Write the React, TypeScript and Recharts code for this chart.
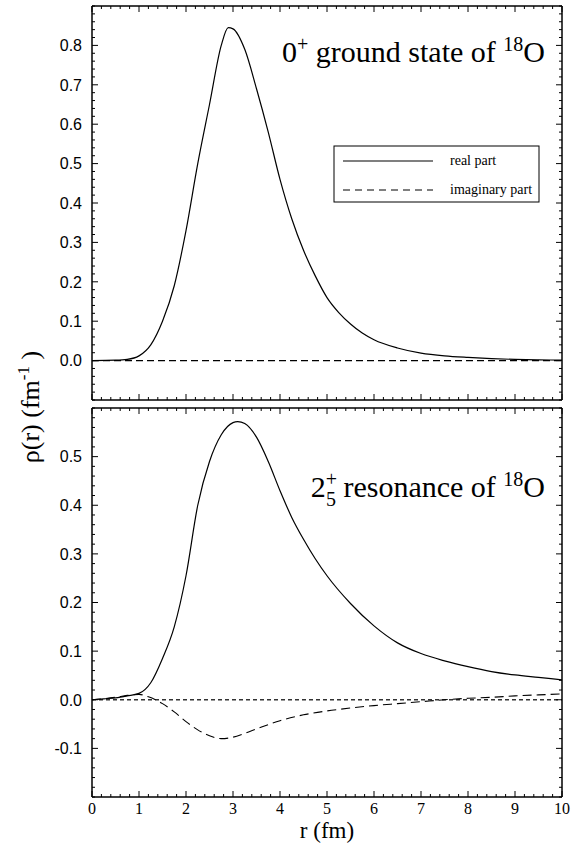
import React from 'react';
import { LineChart, Line, XAxis, YAxis, ReferenceLine } from 'recharts';

// upper panel: 0+ ground state, r in fm
const rTop = [0, 0.5, 0.75, 1, 1.25, 1.5, 1.75, 2, 2.25, 2.5, 2.75, 2.9, 3, 3.25, 3.5, 3.75, 4, 4.25, 4.5, 4.75, 5, 5.25, 5.5, 5.75, 6, 6.5, 7, 7.5, 8, 8.5, 9, 9.5, 10];
const realTop = [0, 0.001, 0.003, 0.012, 0.04, 0.1, 0.19, 0.33, 0.5, 0.65, 0.8, 0.845, 0.842, 0.79, 0.69, 0.58, 0.46, 0.36, 0.28, 0.215, 0.16, 0.122, 0.093, 0.07, 0.053, 0.032, 0.019, 0.012, 0.008, 0.005, 0.003, 0.002, 0.001];
const rImagTop = [0, 10];
const imagTop = [0, 0];

// lower panel: 2+_5 resonance
const rBot = [0, 0.25, 0.5, 0.75, 1, 1.25, 1.5, 1.75, 2, 2.25, 2.5, 2.75, 3, 3.1, 3.25, 3.5, 3.75, 4, 4.25, 4.5, 4.75, 5, 5.5, 6, 6.5, 7, 7.5, 8, 8.5, 9, 9.5, 10];
const realBot = [0, 0.002, 0.004, 0.008, 0.013, 0.035, 0.085, 0.15, 0.255, 0.4, 0.49, 0.545, 0.57, 0.572, 0.568, 0.54, 0.49, 0.43, 0.375, 0.33, 0.29, 0.255, 0.198, 0.152, 0.117, 0.095, 0.08, 0.068, 0.058, 0.051, 0.046, 0.041];
const rImagBot = [0, 0.25, 0.5, 0.75, 1, 1.2, 1.35, 1.5, 1.75, 2, 2.25, 2.5, 2.75, 3, 3.25, 3.5, 4, 4.5, 5, 5.5, 6, 6.5, 7, 7.5, 8, 8.5, 9, 9.5, 10];
const imagBot = [0, 0.002, 0.005, 0.009, 0.011, 0.006, 0, -0.008, -0.025, -0.045, -0.062, -0.074, -0.08, -0.077, -0.069, -0.06, -0.043, -0.031, -0.023, -0.017, -0.012, -0.008, -0.004, 0, 0.003, 0.005, 0.008, 0.01, 0.012];

// axes
const xMajor = [0, 1, 2, 3, 4, 5, 6, 7, 8, 9, 10];
const yTopMajor = [0, 0.1, 0.2, 0.3, 0.4, 0.5, 0.6, 0.7, 0.8];
const yBotMajor = [-0.1, 0, 0.1, 0.2, 0.3, 0.4, 0.5];
const xDomain: [number, number] = [0, 10];
const yTopDomain: [number, number] = [-0.1, 0.9];
const yBotDomain: [number, number] = [-0.2, 0.6];

const toRows = (xs: number[], ys: number[]) => xs.map((r, i) => ({ r, v: ys[i] }));

// every minor tick between lo and hi
const minorTicks = (lo: number, hi: number, step: number) => {
  const n = Math.round((hi - lo) / step);
  const out: number[] = [];
  for (let i = 0; i <= n; i++) out.push(+(lo + i * step).toFixed(4));
  return out;
};

const isMajor = (v: number, majors: number[]) => majors.some((m) => Math.abs(m - v) < 1e-6);

const SERIF = 'Liberation Serif';
const SANS = 'Liberation Sans';

const XTick = (props: any) => {
  const { x, y, payload, side, labels } = props;
  const major = isMajor(payload.value, xMajor);
  const len = major ? 6 : 3;
  const dir = side === 'bottom' ? -1 : 1;
  return (
    <g>
      <line x1={x} y1={y} x2={x} y2={y + dir * len} stroke="#000" strokeWidth={1} />
      {labels && major && (
        <text x={x} y={y + 17} textAnchor="middle" fontFamily={SERIF} fontSize={16} fill="#000">
          {payload.value}
        </text>
      )}
    </g>
  );
};

const YTick = (props: any) => {
  const { x, y, payload, side, majors, labels } = props;
  const major = isMajor(payload.value, majors);
  const len = major ? 6 : 3;
  const dir = side === 'left' ? 1 : -1;
  return (
    <g>
      <line x1={x} y1={y} x2={x + dir * len} y2={y} stroke="#000" strokeWidth={1} />
      {labels && major && (
        <text x={x - 10} y={y} dy="0.36em" textAnchor="end" fontFamily={SANS} fontSize={16} fill="#000">
          {payload.value.toFixed(1)}
        </text>
      )}
    </g>
  );
};

const frame = { stroke: '#000', strokeWidth: 1.5 };

const Panel = ({
  height, margin, yDomain, yMajor, real, imag, imagDash, zeroLine, xLabels,
}: any) => {
  const xt = minorTicks(xDomain[0], xDomain[1], 0.2);
  const yt = minorTicks(yDomain[0], yDomain[1], 0.02);
  return (
    <LineChart width={572} height={height} margin={margin}>
      <XAxis
        xAxisId="b" dataKey="r" type="number" domain={xDomain} allowDataOverflow ticks={xt} interval={0}
        orientation="bottom" height={1} tickSize={0} tickMargin={0} tickLine={false} axisLine={frame}
        tick={(p: any) => <XTick {...p} side="bottom" labels={xLabels} />}
      />
      <XAxis
        xAxisId="t" dataKey="r" type="number" domain={xDomain} allowDataOverflow ticks={xt} interval={0}
        orientation="top" height={1} tickSize={0} tickMargin={0} tickLine={false} axisLine={frame}
        tick={(p: any) => <XTick {...p} side="top" labels={false} />}
      />
      <YAxis
        yAxisId="l" type="number" domain={yDomain} allowDataOverflow ticks={yt} interval={0}
        orientation="left" width={1} tickSize={0} tickMargin={0} tickLine={false} axisLine={frame}
        tick={(p: any) => <YTick {...p} side="left" majors={yMajor} labels />}
      />
      <YAxis
        yAxisId="r" type="number" domain={yDomain} allowDataOverflow ticks={yt} interval={0}
        orientation="right" width={1} tickSize={0} tickMargin={0} tickLine={false} axisLine={frame}
        tick={(p: any) => <YTick {...p} side="right" majors={yMajor} labels={false} />}
      />
      {zeroLine && (
        <ReferenceLine xAxisId="b" yAxisId="l" y={0} stroke="#333" strokeWidth={1.3} strokeDasharray="4 3" />
      )}
      <Line
        xAxisId="b" yAxisId="l" data={imag} dataKey="v" type="monotone" stroke="#000" strokeWidth={1.1}
        strokeDasharray={imagDash} dot={false} activeDot={false} isAnimationActive={false}
      />
      <Line
        xAxisId="b" yAxisId="l" data={real} dataKey="v" type="monotone" stroke="#000" strokeWidth={1.2}
        dot={false} activeDot={false} isAnimationActive={false}
      />
    </LineChart>
  );
};

export default function App() {
  return (
    <div style={{ position: 'absolute', left: 0, top: 0, width: 572, height: 844, background: '#fff' }}>
      <div style={{ position: 'absolute', left: 0, top: 0 }}>
        <Panel
          height={405} margin={{ top: 5, right: 9, bottom: 4, left: 91 }}
          yDomain={yTopDomain} yMajor={yTopMajor}
          real={toRows(rTop, realTop)} imag={toRows(rImagTop, imagTop)} imagDash="7 4"
          zeroLine={false} xLabels={false}
        />
      </div>
      <div style={{ position: 'absolute', left: 0, top: 404 }}>
        <Panel
          height={440} margin={{ top: 3, right: 9, bottom: 46, left: 91 }}
          yDomain={yBotDomain} yMajor={yBotMajor}
          real={toRows(rBot, realBot)} imag={toRows(rImagBot, imagBot)} imagDash="9 5"
          zeroLine xLabels
        />
      </div>
      <svg width={572} height={844} style={{ position: 'absolute', left: 0, top: 0, pointerEvents: 'none' }}>
        <g fontFamily={SERIF} fill="#000">
          <text x={545} y={62} textAnchor="end" fontSize={30}>
            0<tspan dy={-11} fontSize={20}>+</tspan>
            <tspan dy={11}> ground state of </tspan>
            <tspan dy={-11} fontSize={20}>18</tspan>
            <tspan dy={11}>O</tspan>
          </text>
          <text x={545} y={497} textAnchor="end" fontSize={30}>
            2<tspan dy={-11} fontSize={20}>+</tspan>
            <tspan dx={-11} dy={20} fontSize={20}>5</tspan>
            <tspan dy={-9}> resonance of </tspan>
            <tspan dy={-11} fontSize={20}>18</tspan>
            <tspan dy={11}>O</tspan>
          </text>
          <rect x={334} y={146} width={205} height={56} fill="#fff" stroke="#000" strokeWidth={1} />
          <line x1={343} y1={161} x2={433} y2={161} stroke="#000" strokeWidth={1.1} />
          <line x1={343} y1={190} x2={433} y2={190} stroke="#000" strokeWidth={1.1} strokeDasharray="7 5" />
          <text x={450} y={165} fontSize={14}>real part</text>
          <text x={450} y={194} fontSize={14}>imaginary part</text>
          <text transform="translate(39,407) rotate(-90)" textAnchor="middle" fontSize={26}>
            ρ(r) (fm<tspan dy={-10} fontSize={17}>-1</tspan>
            <tspan dy={10}> )</tspan>
          </text>
          <text x={327} y={838} textAnchor="middle" fontSize={23}>r (fm)</text>
        </g>
      </svg>
    </div>
  );
}
